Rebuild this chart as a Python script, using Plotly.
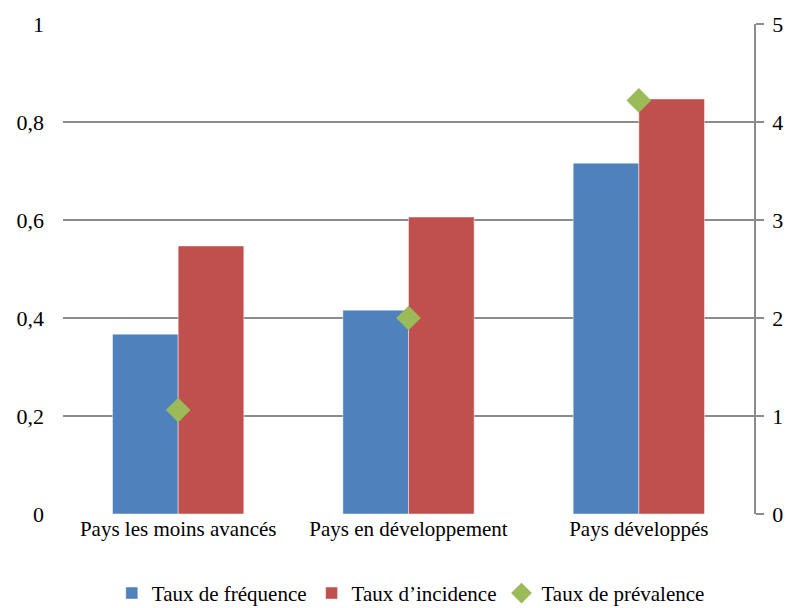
import plotly.graph_objects as go

categories = ["Pays les moins avancés", "Pays en développement", "Pays développés"]
taux_frequence = [0.367, 0.416, 0.716]
taux_incidence = [0.547, 0.606, 0.847]
taux_prevalence = [1.06, 2.0, 4.22]

left_ticks = [0, 0.2, 0.4, 0.6, 0.8, 1]
right_ticks = [0, 1, 2, 3, 4, 5]

font_family = "Liberation Serif"
grid_color = "#8c8c8c"

fig = go.Figure()
fig.add_trace(go.Bar(
    x=categories, y=taux_frequence, name="Taux de fréquence",
    marker=dict(color="#4F81BD", line=dict(color="rgba(255,255,255,0.45)", width=1)),
))
fig.add_trace(go.Bar(
    x=categories, y=taux_incidence, name="Taux d\u2019incidence",
    marker=dict(color="#C0504D", line=dict(color="rgba(255,255,255,0.45)", width=1)),
))
fig.add_trace(go.Scatter(
    x=categories, y=taux_prevalence, name="Taux de prévalence", yaxis="y2",
    mode="markers", marker=dict(symbol="diamond", size=19, color="#9BBB59"),
))

fig.update_layout(
    width=790, height=608,
    margin=dict(l=63, r=36, t=24, b=94, autoexpand=False),
    paper_bgcolor="white", plot_bgcolor="white",
    font=dict(family=font_family, size=21, color="black"),
    separators=", ",
    barmode="group", bargap=0.43, bargroupgap=0,
    showlegend=True,
    legend=dict(orientation="h", x=0.52, xanchor="center", xref="container",
                y=0.024, yanchor="middle", yref="container",
                font=dict(family=font_family, size=21), itemwidth=30,
                traceorder="normal"),
    xaxis=dict(showgrid=False, showline=False, ticks="", zeroline=False,
               tickfont=dict(family=font_family, size=21)),
    yaxis=dict(range=[0, 1], tickvals=left_ticks, showgrid=True, gridcolor=grid_color,
               gridwidth=1.5, showline=False, zeroline=False, ticks="",
               ticklabelstandoff=18, tickfont=dict(family=font_family, size=22)),
    yaxis2=dict(range=[0, 5], tickvals=right_ticks, overlaying="y", side="right",
                showgrid=False, zeroline=False, showline=True, linecolor=grid_color,
                linewidth=1.5, ticks="outside", ticklen=8, tickcolor=grid_color,
                tickwidth=1.5, ticklabelstandoff=4,
                tickfont=dict(family=font_family, size=22)),
)

fig.write_html("out.html")
